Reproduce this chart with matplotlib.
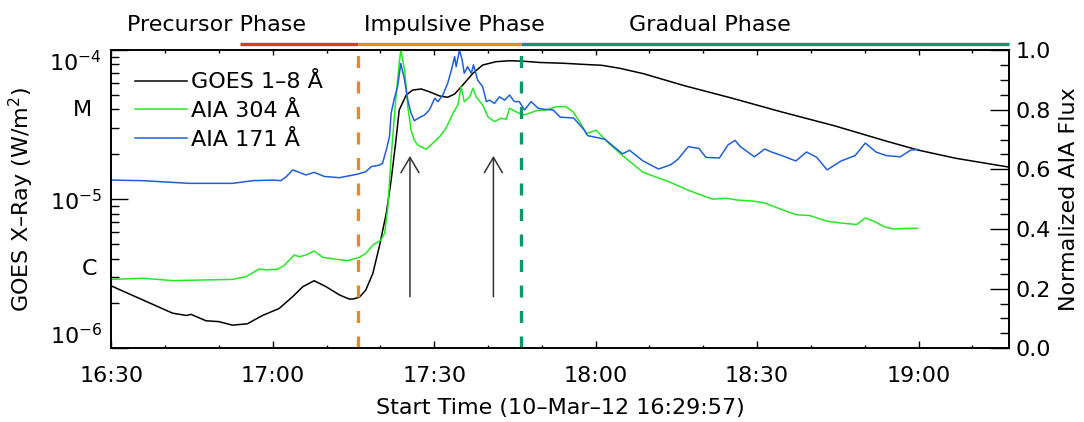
import numpy as np
import matplotlib
matplotlib.use('Agg')
import matplotlib.pyplot as plt
import matplotlib.dates as mdates
import matplotlib.ticker as mticker
import matplotlib.transforms as mtransforms

plt.rcParams['font.family'] = ['DejaVu Sans']
plt.rcParams['font.size'] = 16
plt.rcParams['mathtext.fontset'] = 'dejavusans'

# ---- light curves, time in minutes after 16:30 UT on 10-Mar-2012 ----
goes_min = [0.0, 11.4, 14.0, 14.8, 17.6, 20.0, 22.5, 25.3, 26.3, 28.1, 31.2,
            33.7, 35.6, 37.7, 39.9, 42.4, 44.2, 44.9, 46.1, 47.3, 48.6, 49.8,
            51.1, 52.0, 52.9, 53.5, 54.8, 56.0, 57.6, 59.1, 61.0, 62.5, 63.8,
            65.3, 67.2, 69.0, 71.5, 74.0, 76.2, 79.6, 84.0, 88.0, 91.1, 94.4,
            98.8, 106.6, 115.0, 124.6, 134.3, 144.0, 150.0, 156.9, 162.1, 166.8]
goes_flux = [2.62e-6, 1.72e-6, 1.66e-6, 1.69e-6, 1.53e-6, 1.51e-6, 1.43e-6,
             1.46e-6, 1.53e-6, 1.66e-6, 1.85e-6, 2.22e-6, 2.59e-6, 2.84e-6,
             2.59e-6, 2.28e-6, 2.14e-6, 2.14e-6, 2.20e-6, 2.46e-6, 3.18e-6,
             4.80e-6, 8.04e-6, 1.34e-5, 2.49e-5, 3.96e-5, 4.99e-5, 5.39e-5,
             5.48e-5, 5.25e-5, 4.92e-5, 4.82e-5, 5.07e-5, 5.82e-5, 6.98e-5,
             7.93e-5, 8.35e-5, 8.47e-5, 8.43e-5, 8.25e-5, 8.15e-5, 8.0e-5,
             7.9e-5, 7.55e-5, 6.95e-5, 5.75e-5, 4.79e-5, 3.84e-5, 3.11e-5,
             2.45e-5, 2.13e-5, 1.88e-5, 1.75e-5, 1.64e-5]

aia304_min = [0.0, 5.8, 11.4, 22.5, 25.0, 27.5, 28.8, 30.9, 32.2, 34.0, 34.9,
              36.2, 37.7, 39.3, 41.1, 43.9, 46.1, 47.3, 48.6, 50.1, 50.8, 51.4,
              52.0, 52.9, 53.5, 53.8, 54.5, 55.1, 55.7, 56.3, 56.9, 58.5, 59.7,
              61.0, 62.2, 63.5, 64.4, 65.0, 65.6, 66.6, 67.2, 67.8, 69.0, 70.0,
              71.2, 72.4, 73.4, 74.0, 75.2, 76.5, 77.7, 79.0, 80.8, 82.7, 84.5,
              85.8, 87.0, 88.3, 90.1, 92.4, 95.0, 98.8, 103.4, 107.2, 111.7,
              114.3, 116.3, 119.5, 121.4, 124.6, 127.2, 129.8, 133.0, 135.6,
              138.5, 140.1, 141.7, 143.7, 145.3, 147.9, 149.8]
aia304_norm = [0.231, 0.235, 0.227, 0.231, 0.240, 0.266, 0.263, 0.265, 0.279,
               0.313, 0.307, 0.313, 0.326, 0.305, 0.300, 0.294, 0.305, 0.318,
               0.346, 0.363, 0.386, 0.475, 0.642, 0.843, 0.955, 1.0, 0.933,
               0.810, 0.732, 0.698, 0.682, 0.667, 0.687, 0.709, 0.738, 0.788,
               0.816, 0.877, 0.827, 0.843, 0.872, 0.843, 0.816, 0.776, 0.760,
               0.771, 0.768, 0.805, 0.793, 0.782, 0.788, 0.797, 0.799, 0.810,
               0.810, 0.793, 0.760, 0.720, 0.731, 0.688, 0.646, 0.590, 0.560,
               0.530, 0.500, 0.503, 0.497, 0.493, 0.487, 0.465, 0.448, 0.445,
               0.426, 0.420, 0.415, 0.437, 0.426, 0.407, 0.400, 0.402, 0.402]

aia171_min = [0.0, 5.8, 14.5, 22.5, 26.3, 30.0, 31.5, 32.5, 33.7, 34.9, 36.2,
              37.7, 39.6, 42.4, 45.8, 47.3, 48.3, 49.8, 50.4, 51.1, 51.7, 52.0,
              52.6, 53.2, 53.8, 54.5, 55.1, 55.7, 56.3, 57.3, 58.2, 59.1, 60.1,
              60.7, 61.6, 62.5, 63.2, 63.8, 64.1, 64.7, 65.2, 65.6, 66.2, 66.9,
              67.3, 68.1, 69.0, 69.7, 70.3, 71.2, 72.1, 73.1, 74.0, 74.9, 75.8,
              76.8, 78.0, 79.3, 80.5, 82.1, 83.4, 85.9, 87.0, 87.9, 88.5, 91.7,
              95.0, 96.3, 98.8, 101.7, 104.0, 105.3, 107.2, 109.2, 110.5, 113.0,
              114.6, 115.9, 116.9, 119.5, 121.4, 122.7, 124.6, 127.2, 129.2,
              131.1, 133.0, 135.6, 138.2, 140.1, 142.1, 144.0, 146.6, 148.5,
              149.8]
aia171_norm = [0.564, 0.562, 0.553, 0.553, 0.562, 0.564, 0.562, 0.575, 0.598,
               0.590, 0.581, 0.590, 0.576, 0.572, 0.584, 0.592, 0.609, 0.614,
               0.620, 0.665, 0.710, 0.788, 0.838, 0.877, 0.955, 0.899, 0.832,
               0.788, 0.763, 0.774, 0.782, 0.799, 0.838, 0.827, 0.849, 0.888,
               0.933, 0.978, 0.944, 1.0, 0.966, 0.922, 0.944, 0.922, 0.950,
               0.899, 0.877, 0.827, 0.832, 0.821, 0.843, 0.832, 0.849, 0.827,
               0.827, 0.799, 0.827, 0.805, 0.801, 0.799, 0.775, 0.772, 0.750,
               0.731, 0.713, 0.701, 0.652, 0.664, 0.628, 0.601, 0.616, 0.634,
               0.676, 0.670, 0.640, 0.638, 0.682, 0.697, 0.676, 0.642, 0.668,
               0.658, 0.646, 0.628, 0.658, 0.640, 0.598, 0.628, 0.646, 0.688,
               0.658, 0.646, 0.642, 0.664, 0.667]

# flare phases (minutes after 16:30)
phase_names = ['Precursor Phase', 'Impulsive Phase', 'Gradual Phase']
phase_start = [23.9, 45.9, 76.2]
phase_end = [45.9, 76.2, 166.8]
phase_label_min = [19.5, 63.8, 111.2]
phase_colors = ['#d8400f', '#e8891a', '#10966a']

arrow_min = [55.5, 71.0]

T0 = np.datetime64('2012-03-10T16:30:00')
START = np.datetime64('2012-03-10T16:29:57')
END = np.datetime64('2012-03-10T19:16:48')


def to_time(minutes):
    return T0 + (np.asarray(minutes, dtype=float) * 60).astype('timedelta64[s]')


def to_num(minutes):
    return mdates.date2num(to_time(minutes))


fig = plt.figure(figsize=(10.84, 4.22), dpi=100)
ax = fig.add_axes([0.1024, 0.1746, 0.8284, 0.7069])
ax2 = ax.twinx()

# GOES soft X-ray on the log axis
l_goes, = ax.plot(to_time(goes_min), goes_flux, color='black', lw=1.1)
ax.set_yscale('log')
ax.set_ylim(1e-6, 1e-4)
ax.set_xlim(START, END)

# AIA light curves on the normalized axis
l304, = ax2.plot(to_time(aia304_min), aia304_norm, color='#25e825', lw=1.1)
l171, = ax2.plot(to_time(aia171_min), aia171_norm, color='#1f5fd8', lw=1.1)
ax2.set_ylim(0, 1.0)

# phase boundaries
ax2.axvline(to_time(phase_start[1]), color=phase_colors[1], lw=2.4,
            ls=(0, (3.6, 4.05)))
ax2.axvline(to_time(phase_start[2]), color=phase_colors[2], lw=2.4,
            ls=(0, (3.6, 4.05)))

for tm in arrow_min:
    ax2.annotate('', xy=(to_num(tm), 0.645), xytext=(to_num(tm), 0.173),
                 arrowprops=dict(arrowstyle='->,head_length=1.1,head_width=0.65',
                                 color='#333333', lw=1.1, mutation_scale=10,
                                 shrinkA=0, shrinkB=0))

# phase bars and names above the frame
trans = mtransforms.blended_transform_factory(ax.transData, ax.transAxes)
for name, s, e, lm, c in zip(phase_names, phase_start, phase_end,
                             phase_label_min, phase_colors):
    ax.plot([to_num(s), to_num(e)], [1.02, 1.02], transform=trans, color=c,
            lw=2.4, clip_on=False, solid_capstyle='butt')
    ax.text(to_num(lm), 1.085, name, transform=trans, ha='center',
            va='center')

# time axis
ax.xaxis.set_major_locator(mdates.MinuteLocator(byminute=[0, 30]))
ax.xaxis.set_minor_locator(mdates.MinuteLocator(byminute=range(0, 60, 10)))
ax.xaxis.set_major_formatter(mdates.DateFormatter('%H:%M'))
ax.tick_params(axis='x', which='both', direction='in', top=False,
               bottom=True, pad=12.5, width=1)
ax.tick_params(axis='x', which='major', length=5)
ax.tick_params(axis='x', which='minor', length=2.5)
ax2.xaxis.set_visible(True)
ax2.tick_params(axis='x', which='both', direction='in', top=True,
                bottom=False, labeltop=False, labelbottom=False, width=1)
ax2.tick_params(axis='x', which='major', length=3.6)
ax2.tick_params(axis='x', which='minor', length=2.2)

# left log axis
ax.yaxis.set_major_locator(mticker.FixedLocator([1e-6, 1e-5, 1e-4]))
ax.yaxis.set_minor_locator(mticker.LogLocator(base=10, subs=range(2, 10),
                                              numticks=20))
ax.yaxis.set_minor_formatter(mticker.NullFormatter())
ax.tick_params(axis='y', which='both', direction='in', right=False, width=1)
ax.tick_params(axis='y', which='major', length=12.5, pad=6.5)
ax.tick_params(axis='y', which='minor', length=6)
yticks = ax.yaxis.get_major_ticks()
yticks[0].label1.set_va('bottom')
yticks[-1].label1.set_va('top')

ytrans = mtransforms.blended_transform_factory(ax.transAxes, ax.transData)
ax.text(-0.0317, 10 ** -4.402, 'M', transform=ytrans, ha='center',
        va='center')
ax.text(-0.0245, 10 ** -5.47, 'C', transform=ytrans, ha='center',
        va='center')

# right normalized axis
ax2.yaxis.set_major_locator(mticker.MultipleLocator(0.2))
ax2.yaxis.set_minor_locator(mticker.MultipleLocator(0.05))
ax2.yaxis.set_major_formatter(mticker.FormatStrFormatter('%.1f'))
ax2.tick_params(axis='y', which='both', direction='in', left=False, width=1)
ax2.tick_params(axis='y', which='major', length=13.5, pad=5)
ax2.tick_params(axis='y', which='minor', length=6.5)
rticks = ax2.yaxis.get_major_ticks()
rticks[0].label2.set_va('bottom')
rticks[-1].label2.set_va('top')

for a in (ax, ax2):
    for sp in a.spines.values():
        sp.set_linewidth(1.2)

ax.set_xlabel('Start Time (10\u2013Mar\u201312 16:29:57)')
ax.xaxis.set_label_coords(0.5, -0.165)
ax.set_ylabel('GOES X\u2013Ray (W/m$^{2}$)')
ax.yaxis.set_label_coords(-0.0835, 0.5)
ax2.set_ylabel('Normalized AIA Flux')
ax2.yaxis.set_label_coords(1.0562, 0.5)

ax2.legend([l_goes, l304, l171],
           ['GOES 1\u20138 \u00c5', 'AIA 304 \u00c5', 'AIA 171 \u00c5'],
           loc='upper left', bbox_to_anchor=(0.0267, 0.925), frameon=False,
           borderpad=0, borderaxespad=0, handlelength=2.35,
           handletextpad=0.15, labelspacing=0.4)

fig.savefig('out.png', dpi=100)
